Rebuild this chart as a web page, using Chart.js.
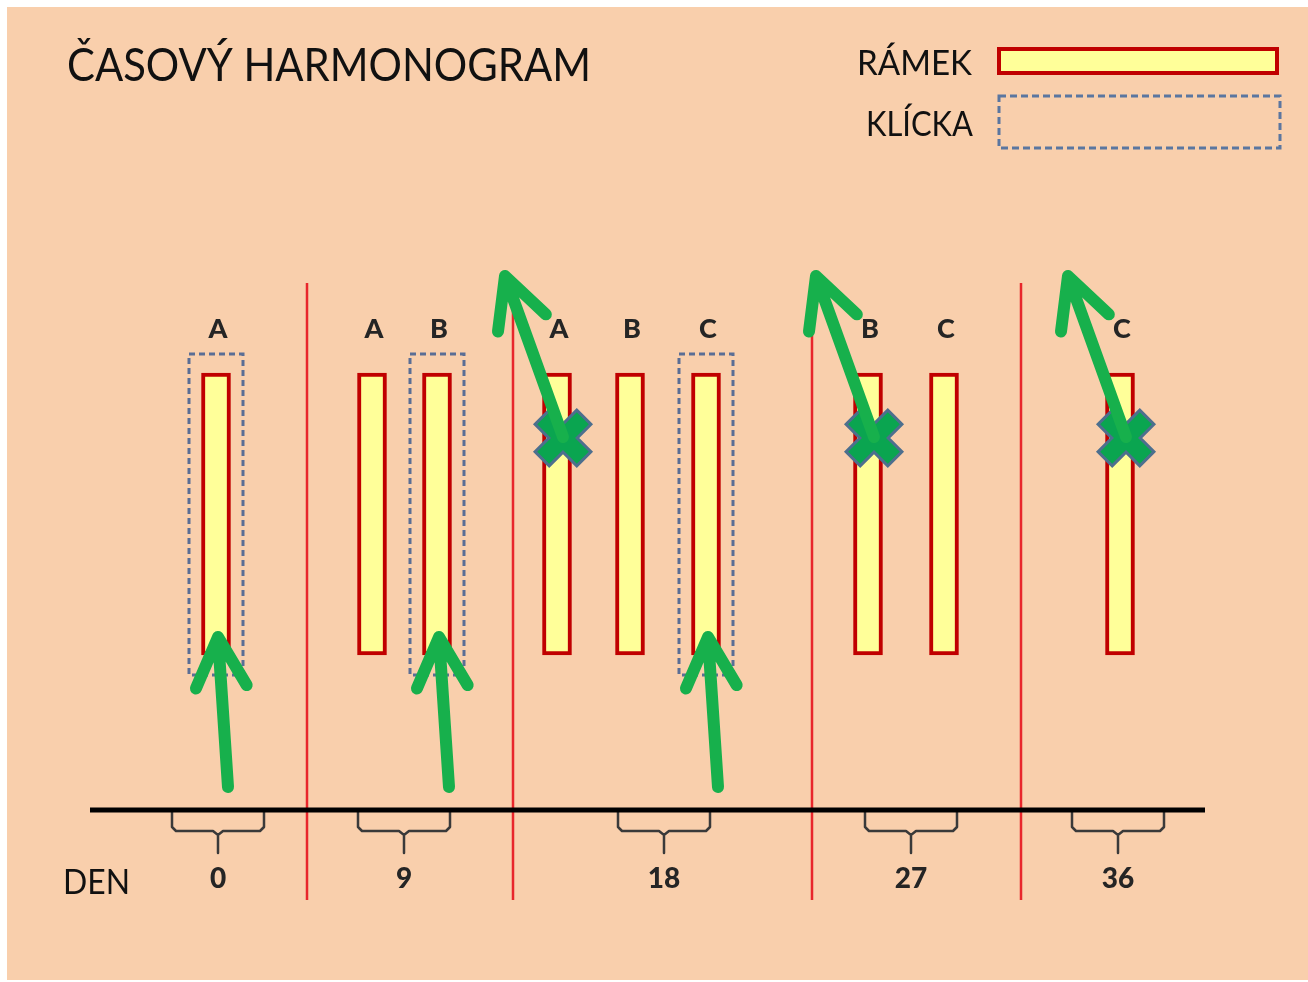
<!DOCTYPE html>
<html>
<head>
<meta charset="utf-8">
<title>Časový harmonogram</title>
<script src="https://cdn.jsdelivr.net/npm/chart.js@4.4.1/dist/chart.umd.min.js"></script>
<style>
  html, body { margin: 0; padding: 0; background: #fff; }
  canvas { display: block; }
</style>
</head>
<body>
<canvas id="chart" width="1308" height="982"></canvas>
<script>
// Data (x / y in the sheet's own units)
const days = ['0', '9', '18', '27', '36']
const dayX = [218, 404, 664, 911, 1118]
const frames = ['A', 'A', 'B', 'A', 'B', 'C', 'B', 'C', 'C']
const frameX = [216, 372, 437, 557, 630, 706, 868, 944, 1120]
const frameSpan = [373, 655]
const looped = [0, 2, 5]     // frames kept in a klícka
const removed = [3, 6, 8]    // frames thrown away
const dividerX = [307, 513, 812, 1021]

const GREEN = '#17B04C'

// helpers to build line paths (gaps = point with y null)
const gap = { x: 0, y: null }

function arrow(tail, tip, len, deg) {
  const dx = tail.x - tip.x, dy = tail.y - tip.y
  const d = Math.hypot(dx, dy)
  const ux = dx / d, uy = dy / d
  const a = deg * Math.PI / 180
  const rot = (s) => ({
    x: tip.x + len * (ux * Math.cos(s * a) - uy * Math.sin(s * a)),
    y: tip.y + len * (ux * Math.sin(s * a) + uy * Math.cos(s * a))
  })
  return [tail, tip, gap, rot(1), tip, rot(-1), gap]
}

const dividerPts = dividerX.flatMap(x => [{ x, y: 283 }, { x, y: 900 }, gap])

const bracePts = dayX.flatMap(c => [
  { x: c - 46, y: 812 }, { x: c - 46, y: 827 }, { x: c - 42, y: 831 }, { x: c - 5, y: 831 },
  { x: c, y: 835 }, { x: c, y: 853 }, gap,
  { x: c, y: 835 }, { x: c + 5, y: 831 }, { x: c + 42, y: 831 }, { x: c + 46, y: 827 },
  { x: c + 46, y: 812 }, gap
])

const loopPts = looped.flatMap(i => {
  const x = frameX[i]
  return [{ x: x - 27, y: 354 }, { x: x + 27, y: 354 }, { x: x + 27, y: 675 },
    { x: x - 27, y: 675 }, { x: x - 27, y: 354 }, gap]
})

const upPts = looped.flatMap(i => arrow({ x: frameX[i] + 12, y: 787 }, { x: frameX[i] + 2, y: 637 }, 56, 27))
const outPts = removed.flatMap(i => arrow({ x: frameX[i] + 6, y: 437 }, { x: frameX[i] - 52, y: 276 }, 56, 27))
const crossPts = removed.map(i => ({ x: frameX[i] + 6, y: 438 }))

const lineDefaults = { type: 'line', pointRadius: 0, spanGaps: false, tension: 0, fill: false }

//Background sheet
const paper = {
  id: 'paper',
  beforeDraw(chart) {
    const ctx = chart.ctx
    ctx.save()
    ctx.fillStyle = '#ffffff'
    ctx.fillRect(0, 0, chart.width, chart.height)
    ctx.fillStyle = '#F9CFAC'
    ctx.fillRect(7, 7, chart.width - 7, chart.height - 9)
    ctx.restore()
  }
}

function fitText(ctx, text, x, y, font, width) {
  ctx.font = font
  const w = ctx.measureText(text).width
  ctx.save()
  ctx.translate(x, y)
  ctx.scale(width / w, 1)
  ctx.textAlign = 'left'
  ctx.fillText(text, 0, 0)
  ctx.restore()
}

//Texts and legend
const texts = {
  id: 'texts',
  afterDatasetsDraw(chart) {
    const ctx = chart.ctx
    const sx = chart.scales.x, sy = chart.scales.y
    ctx.save()
    ctx.textBaseline = 'alphabetic'

    ctx.fillStyle = '#111'
    fitText(ctx, 'ČASOVÝ HARMONOGRAM', 67, 81, '46px Lato', 524)
    fitText(ctx, 'RÁMEK', 857, 75, '35px Lato', 115)
    fitText(ctx, 'KLÍCKA', 866, 136, '35px Lato', 107)
    fitText(ctx, 'DEN', 63, 894, '35px Lato', 67)

    // legend swatches
    ctx.fillStyle = '#FFFF99'
    ctx.strokeStyle = '#C00000'
    ctx.lineWidth = 4
    ctx.fillRect(999, 49, 278, 24)
    ctx.strokeRect(999, 49, 278, 24)
    ctx.strokeStyle = '#5B76A0'
    ctx.lineWidth = 3
    ctx.setLineDash([7, 4])
    ctx.strokeRect(999, 96, 281, 52)
    ctx.setLineDash([])

    ctx.fillStyle = '#252525'
    ctx.textAlign = 'center'
    ctx.font = '900 27px Lato'
    frames.forEach((f, i) => {
      ctx.fillText(f, sx.getPixelForValue(frameX[i] + 2), sy.getPixelForValue(338))
    })
    ctx.font = '900 28px Lato'
    days.forEach((d, i) => {
      ctx.fillText(d, sx.getPixelForValue(dayX[i]), sy.getPixelForValue(888))
    })
    ctx.restore()
  }
}

const ctx = document.getElementById('chart').getContext('2d')
const myChart = new Chart(ctx, {
  type: 'bar',
  data: {
    datasets: [
      { ...lineDefaults, data: dividerPts, borderColor: '#E8262B', borderWidth: 2.5, order: 10 },
      { ...lineDefaults, data: [{ x: 90, y: 810 }, { x: 1205, y: 810 }], borderColor: '#000', borderWidth: 5, order: 9 },
      { ...lineDefaults, data: bracePts, borderColor: '#3a3a3a', borderWidth: 2.5, borderJoinStyle: 'round', order: 9 },
      { ...lineDefaults, data: loopPts, borderColor: '#5B6E95', borderWidth: 3, borderDash: [6, 4], order: 8 },
      {
        type: 'bar',
        data: frameX.map(x => ({ x, y: frameSpan })),
        backgroundColor: '#FFFF99',
        borderColor: '#C00000',
        borderWidth: 4,
        borderSkipped: false,
        barThickness: 29,
        order: 7
      },
      { ...lineDefaults, data: upPts, borderColor: GREEN, borderWidth: 12, borderCapStyle: 'round', borderJoinStyle: 'round', order: 6 },
      { type: 'scatter', data: crossPts, pointStyle: 'crossRot', pointRadius: 31, pointBorderWidth: 23, pointBorderColor: '#4D6F8E', order: 5 },
      { type: 'scatter', data: crossPts, pointStyle: 'crossRot', pointRadius: 28, pointBorderWidth: 17, pointBorderColor: '#0AA550', order: 4 },
      { ...lineDefaults, data: outPts, borderColor: GREEN, borderWidth: 12, borderCapStyle: 'round', borderJoinStyle: 'round', order: 3 }
    ]
  },
  options: {
    responsive: false,
    animation: false,
    events: [],
    layout: { padding: 0, autoPadding: false },
    scales: {
      x: { type: 'linear', min: 0, max: 1308, offset: false, display: false },
      y: { type: 'linear', min: 0, max: 982, reverse: true, display: false }
    },
    plugins: {
      legend: { display: false },
      tooltip: { enabled: false }
    }
  },
  plugins: [paper, texts]
})
</script>
</body>
</html>
